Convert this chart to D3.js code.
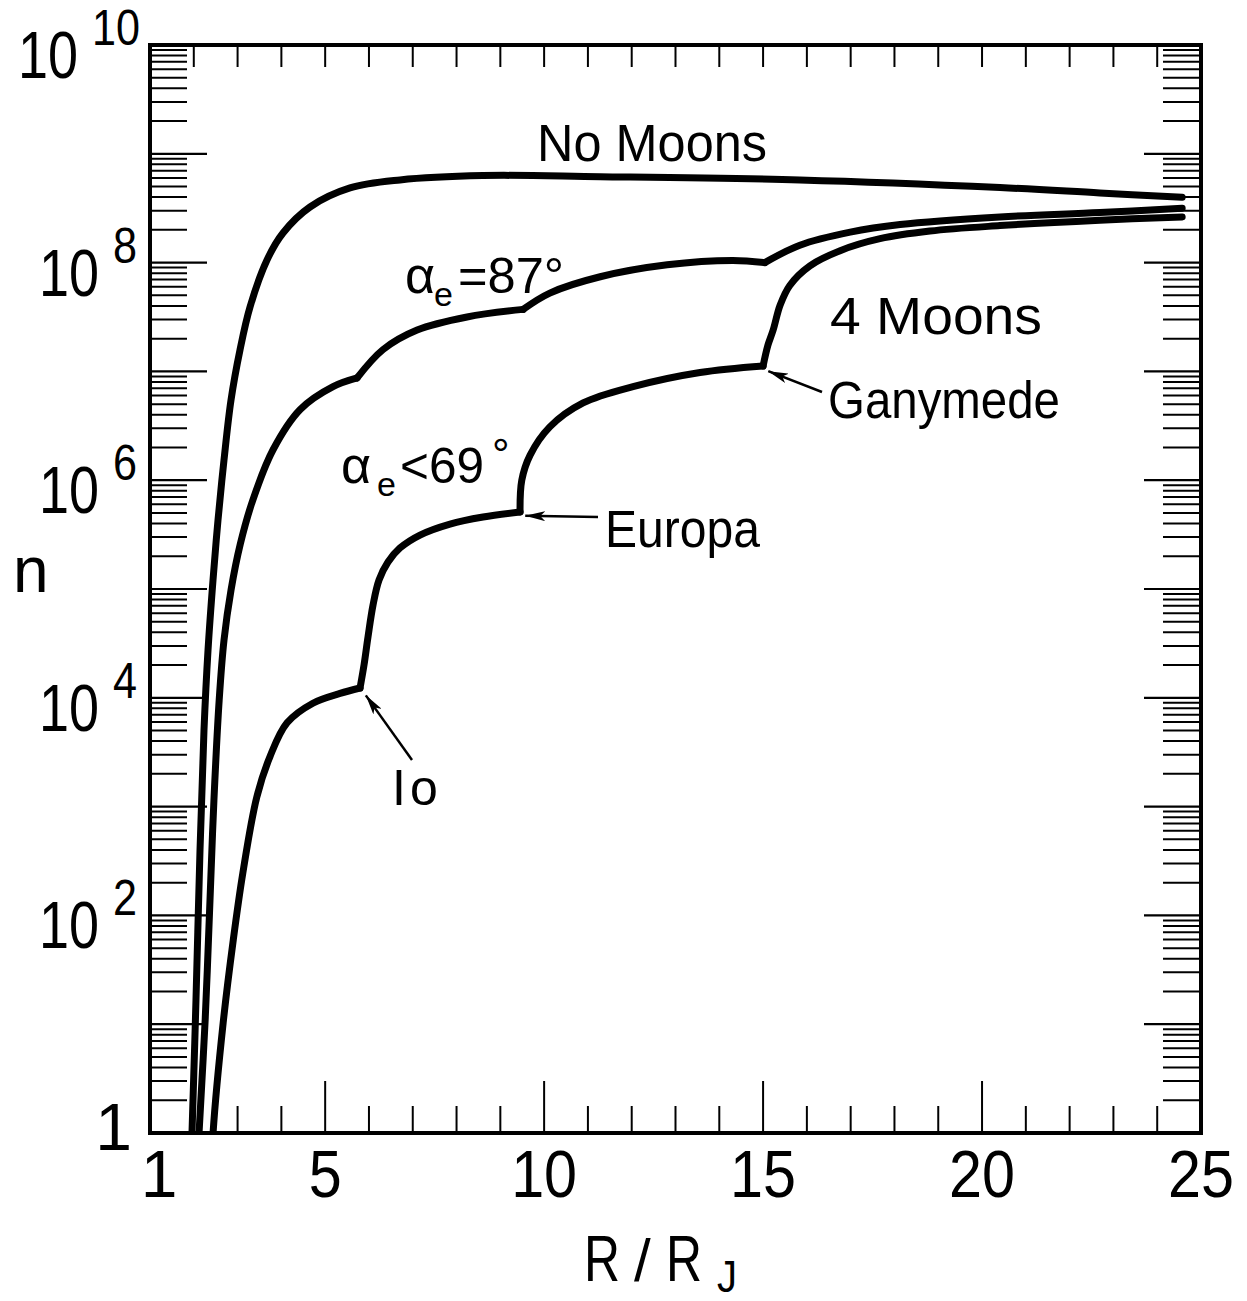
<!DOCTYPE html>
<html>
<head>
<meta charset="utf-8">
<script src="https://cdn.jsdelivr.net/npm/d3@7"></script>
<style>
  body { margin: 0; background: #fff; }
  text { font-family: "Liberation Sans", Arial, sans-serif; fill: #000; }
</style>
</head>
<body>
<div id="chart"></div>
<script>
// Curves: [R/RJ, log10 n]
const noMoons = [
  [1.93, -0.3], [1.959, 0], [2.050, 1.222], [2.142, 2.601], [2.233, 3.704],
  [2.325, 4.439], [2.439, 5.083], [2.553, 5.634], [2.690, 6.186], [2.850, 6.737],
  [3.055, 7.197], [3.284, 7.592], [3.672, 8.024], [4.037, 8.272], [4.654, 8.511],
  [5.567, 8.686], [6.71, 8.76], [8.60, 8.80], [11.28, 8.79], [15.84, 8.76],
  [20.41, 8.69], [22.69, 8.64], [24.57, 8.60]
];
const alpha87 = [
  [2.09, -0.3], [2.12, 0], [2.26, 1.04], [2.37, 2.14], [2.46, 3.06], [2.58, 3.98],
  [2.69, 4.53], [2.85, 4.99], [3.06, 5.41], [3.35, 5.82], [3.81, 6.28],
  [4.43, 6.65], [5.18, 6.86], [5.73, 6.94],
  [6.32, 7.20], [7.10, 7.38], [8.24, 7.50], [9.52, 7.57],
  [10.13, 7.72], [11.28, 7.87], [12.81, 7.98], [14.31, 8.02], [15.04, 8.00],
  [15.84, 8.16], [16.99, 8.28], [18.13, 8.35], [20.41, 8.42], [22.69, 8.46],
  [24.57, 8.50]
];
const fourMoons = [
  [2.41, -0.3], [2.44, 0], [2.67, 1.01], [2.90, 1.77], [3.12, 2.39], [3.44, 3.09],
  [3.74, 3.46], [4.13, 3.77], [4.72, 3.95], [5.34, 4.04], [5.796, 4.090],
  [5.887, 4.301], [5.978, 4.559], [6.093, 4.853], [6.230, 5.083], [6.435, 5.248],
  [6.709, 5.377], [7.166, 5.496], [7.851, 5.597], [8.605, 5.662], [9.450, 5.708],
  [9.49, 6.00], [9.68, 6.23], [10.13, 6.49], [10.89, 6.71], [12.03, 6.86],
  [13.56, 6.99], [15.00, 7.05],
  [15.11, 7.24], [15.23, 7.38], [15.39, 7.61], [15.61, 7.79], [16.07, 7.97],
  [16.76, 8.11], [17.67, 8.22], [18.81, 8.29], [20.41, 8.34], [22.69, 8.39],
  [24.57, 8.42]
];
// R where each curve has a corner (moon orbits)
const alpha87Kinks = [5.73, 9.52, 15.04];
const fourMoonsKinks = [5.796, 9.450, 15.00];

const xTicks = [1, 5, 10, 15, 20, 25];
const yExponents = [10, 8, 6, 4, 2];

const width = 1247, height = 1301;
const plot = { left: 150, right: 1201, top: 45, bottom: 1133 };

const svg = d3.select("#chart").append("svg")
    .attr("width", width)
    .attr("height", height);

const x = d3.scaleLinear().domain([1, 25]).range([plot.left, plot.right]);
const y = d3.scaleLog().domain([1, 1e10]).range([plot.bottom, plot.top]);

// clip so the curves stop at the frame
svg.append("clipPath").attr("id", "clip")
  .append("rect")
    .attr("x", plot.left).attr("y", plot.top)
    .attr("width", plot.right - plot.left).attr("height", plot.bottom - plot.top);

// Ticks (log paper style) on left and right
const decades = d3.range(0, 11);
const minorVals = [];
decades.slice(0, 10).forEach(e => {
  for (let k = 2; k <= 9; k++) minorVals.push(k * Math.pow(10, e));
});

const ticks = svg.append("g").attr("stroke", "#000");

ticks.selectAll(".ymajL").data(decades.map(e => Math.pow(10, e))).enter()
  .append("line")
    .attr("x1", plot.left).attr("x2", plot.left + 57)
    .attr("y1", d => y(d)).attr("y2", d => y(d))
    .attr("stroke-width", 2.2);
ticks.selectAll(".yminL").data(minorVals).enter()
  .append("line")
    .attr("x1", plot.left).attr("x2", plot.left + 37)
    .attr("y1", d => y(d)).attr("y2", d => y(d))
    .attr("stroke-width", 2);
ticks.selectAll(".ymajR").data(decades.map(e => Math.pow(10, e))).enter()
  .append("line")
    .attr("x1", plot.right).attr("x2", plot.right - 57)
    .attr("y1", d => y(d)).attr("y2", d => y(d))
    .attr("stroke-width", 2.2);
ticks.selectAll(".yminR").data(minorVals).enter()
  .append("line")
    .attr("x1", plot.right).attr("x2", plot.right - 38)
    .attr("y1", d => y(d)).attr("y2", d => y(d))
    .attr("stroke-width", 2);

const xInts = d3.range(2, 25);
ticks.selectAll(".xb").data(xInts).enter()
  .append("line")
    .attr("x1", d => x(d)).attr("x2", d => x(d))
    .attr("y1", plot.bottom).attr("y2", d => plot.bottom - (d % 5 === 0 ? 52 : 27))
    .attr("stroke-width", 2);
ticks.selectAll(".xt").data(xInts).enter()
  .append("line")
    .attr("x1", d => x(d)).attr("x2", d => x(d))
    .attr("y1", plot.top).attr("y2", plot.top + 22)
    .attr("stroke-width", 2);

// Frame
svg.append("rect")
    .attr("x", plot.left).attr("y", plot.top)
    .attr("width", plot.right - plot.left).attr("height", plot.bottom - plot.top)
    .attr("fill", "none").attr("stroke", "#000").attr("stroke-width", 4);

// Curves, split at the moon corners
function splitAt(data, kinks) {
  const segs = [];
  let cur = [];
  data.forEach(p => {
    cur.push(p);
    if (kinks.includes(p[0])) { segs.push(cur); cur = [p]; }
  });
  segs.push(cur);
  return segs;
}

const line = d3.line()
    .x(d => x(d[0]))
    .y(d => y(Math.pow(10, d[1])))
    .curve(d3.curveCatmullRom.alpha(0.5));

const segments = [].concat(
  splitAt(noMoons, []),
  splitAt(alpha87, alpha87Kinks),
  splitAt(fourMoons, fourMoonsKinks)
);

svg.append("g").attr("clip-path", "url(#clip)")
  .selectAll("path").data(segments).enter()
  .append("path")
    .attr("d", line)
    .attr("fill", "none")
    .attr("stroke", "#000")
    .attr("stroke-width", 7)
    .attr("stroke-linejoin", "round")
    .attr("stroke-linecap", "round");

// Axis labels (the original type is narrow, so widths are set)
svg.selectAll(".xl").data(xTicks).enter()
  .append("text")
    .attr("x", d => x(d) + (d === 1 ? 9 : 0))
    .attr("y", 1197)
    .attr("text-anchor", "middle")
    .attr("font-size", 66)
    .each(function(d) {
      if (d !== 1) d3.select(this)
          .attr("textLength", String(d).length * 33)
          .attr("lengthAdjust", "spacingAndGlyphs");
    })
    .text(d => d);

yExponents.forEach(e => {
  const supX = e === 10 ? 92 : 113;
  const ty = y(Math.pow(10, e));
  svg.append("text")
      .attr("x", supX - 14 - 60).attr("y", ty + 33)
      .attr("font-size", 66)
      .attr("textLength", 60).attr("lengthAdjust", "spacingAndGlyphs")
      .text("10");
  svg.append("text")
      .attr("x", supX).attr("y", ty)
      .attr("font-size", 50)
      .attr("textLength", String(e).length * 24).attr("lengthAdjust", "spacingAndGlyphs")
      .text(e);
});

svg.append("text").attr("x", 132).attr("y", 1150)
    .attr("text-anchor", "end").attr("font-size", 66).text("1");

svg.append("text").attr("x", 13).attr("y", 592)
    .attr("font-size", 64).text("n");

function label(txt, lx, ly, size, len) {
  const t = svg.append("text").attr("x", lx).attr("y", ly)
      .attr("font-size", size).text(txt);
  if (len) t.attr("textLength", len).attr("lengthAdjust", "spacingAndGlyphs");
  return t;
}

label("R", 584, 1281, 64, 36);
label("/", 634, 1281, 60);
label("R", 666, 1281, 64, 36);
label("J", 717, 1292, 44, 20);

// Curve labels
label("No Moons", 537, 161, 51, 230);
label("4 Moons", 830, 334, 51, 212);
label("Ganymede", 828, 418, 51, 232);
label("Europa", 605, 547, 51, 155);
label("Io", 392, 805, 50).attr("letter-spacing", 4);

label("\u03b1", 405, 293, 52);
label("e", 434, 306, 34);
label("=87\u00b0", 458, 293, 50, 106);

label("\u03b1", 341, 483, 52);
label("e", 377, 496, 34);
label("<69", 400, 483, 50, 84);
label("\u00b0", 492, 470, 44);

// Arrows to the moon corners
svg.append("defs").append("marker")
    .attr("id", "head")
    .attr("viewBox", "0 0 20 10")
    .attr("refX", 20).attr("refY", 5)
    .attr("markerWidth", 20).attr("markerHeight", 10)
    .attr("markerUnits", "userSpaceOnUse")
    .attr("orient", "auto")
  .append("path")
    .attr("d", "M0,0 L20,5 L0,10 L5,5 Z")
    .attr("fill", "#000");

const arrows = [
  { from: [412, 760], to: [5.86, 4.05] },
  { from: [598, 517], to: [9.50, 5.70] },
  { from: [822, 392], to: [15.05, 7.03] }
];
svg.selectAll(".arrow").data(arrows).enter()
  .append("line")
    .attr("x1", d => d.from[0]).attr("y1", d => d.from[1])
    .attr("x2", d => x(d.to[0]) + 3).attr("y2", d => y(Math.pow(10, d.to[1])) + 3)
    .attr("stroke", "#000").attr("stroke-width", 2.5)
    .attr("marker-end", "url(#head)");
</script>
</body>
</html>
